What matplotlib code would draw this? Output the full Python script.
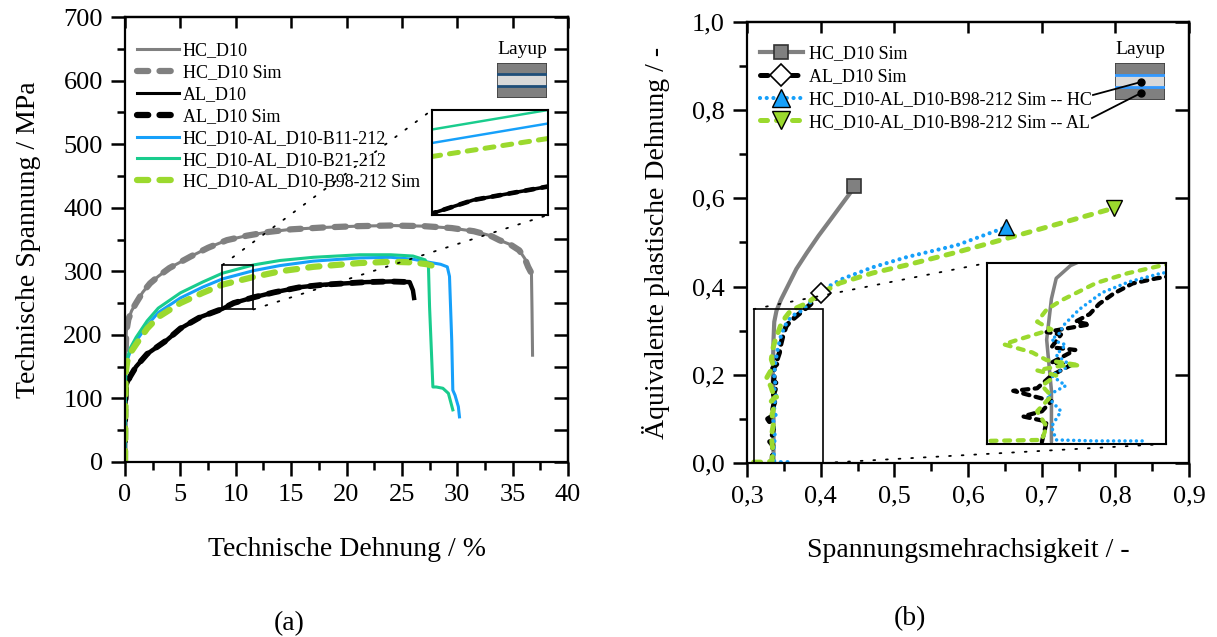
import matplotlib
matplotlib.use('Agg')
import matplotlib.pyplot as plt
from matplotlib.lines import Line2D
from matplotlib.patches import Rectangle, ConnectionPatch
from matplotlib.ticker import MultipleLocator, FuncFormatter, NullLocator

plt.rcParams['font.family'] = ['Liberation Serif', 'DejaVu Serif']
plt.rcParams['axes.linewidth'] = 1.6

# ---------------- data (a): stress-strain ----------------
hc_x = [0, 0.02, 0.05, 0.12, 0.3, 0.6, 1.0, 1.6, 2.26, 3.0, 4.0, 5.9, 7.5, 9.2, 11.0, 13.0, 15.0, 18.0,
        21.0, 24.0, 27.0, 29.5, 31.5, 33.0, 33.8, 34.8, 35.6, 36.1, 36.4, 36.7, 36.75, 36.8]
hc_y = [0, 100, 170, 205, 224, 238, 250, 267, 281, 292, 305, 323, 337, 349, 356, 362, 366, 369,
        371, 372, 371, 368, 363, 356, 349, 342, 333, 320, 307, 297, 240, 168]
hcsim_x = hc_x[:-2]
hcsim_y = hc_y[:-2]

al_x = [0, 0.02, 0.1, 0.45, 1.0, 2.0, 3.8, 5.0, 6.8, 8.8, 9.8, 11.6, 13.5, 15.8, 18.0, 21.8, 24.0, 25.7, 26.0, 26.1]
al_y = [0, 80, 120, 134, 150, 170, 192, 210, 228, 241, 250, 259, 267, 275, 279, 283, 284, 283, 270, 258]
alsim_x = al_x[:-2]
alsim_y = al_y[:-2]

b11_x = [0, 0.02, 0.06, 0.2, 0.5, 1.0, 2.0, 3.0, 5.0, 7.0, 8.8, 11.6, 14.0, 17.0, 21.2, 24.0, 26.0, 27.2,
         28.5, 29.1, 29.3, 29.5, 29.6, 29.8, 30.1, 30.2]
b11_y = [0, 80, 140, 160, 175, 190, 215, 235, 258, 275, 288, 301, 309, 316, 321, 322, 319, 315,
         311, 307, 292, 192, 113, 105, 87, 71]

b21_x = [0, 0.02, 0.06, 0.2, 0.5, 1.0, 2.0, 3.0, 5.0, 7.0, 8.8, 11.6, 14.0, 17.0, 21.2, 24.0, 26.0, 27.1,
         27.4, 27.5, 27.7, 27.8, 28.1, 28.7, 29.2, 29.6]
b21_y = [0, 80, 140, 163, 180, 196, 222, 242, 266, 283, 297, 310, 317, 322, 326, 326, 324, 318,
         307, 244, 160, 118, 118, 116, 108, 82]

b98_x = [0, 0.02, 0.06, 0.2, 0.5, 1.0, 2.0, 3.0, 5.0, 7.0, 8.8, 11.6, 14.0, 17.0, 21.2, 24.0, 26.0, 27.3, 28.1]
b98_y = [0, 60, 140, 158, 172, 185, 210, 228, 250, 266, 279, 291, 300, 307, 313, 315, 314, 311, 307]

labels_a = ['HC_D10', 'HC_D10 Sim', 'AL_D10', 'AL_D10 Sim',
            'HC_D10-AL_D10-B11-212', 'HC_D10-AL_D10-B21-212', 'HC_D10-AL_D10-B98-212 Sim']

# ---------------- data (b): triaxiality vs. plastic strain ----------------
g_x = [0.336, 0.336, 0.335, 0.336, 0.337, 0.340, 0.346, 0.355, 0.367, 0.381, 0.397, 0.413, 0.428, 0.440, 0.445]
g_y = [0.0, 0.10, 0.20, 0.28, 0.32, 0.345, 0.37, 0.40, 0.44, 0.476, 0.515, 0.551, 0.585, 0.612, 0.628]

k_x = [0.334, 0.335, 0.330, 0.334, 0.336, 0.328, 0.333, 0.336, 0.340, 0.336, 0.341, 0.336, 0.338, 0.335,
       0.344, 0.341, 0.344, 0.346, 0.349, 0.353, 0.358, 0.372, 0.385, 0.401]
k_y = [0.00, 0.04, 0.05, 0.06, 0.08, 0.10, 0.105, 0.13, 0.15, 0.155, 0.18, 0.185, 0.21, 0.215,
       0.23, 0.235, 0.25, 0.27, 0.29, 0.31, 0.32, 0.34, 0.358, 0.385]

hcl_x = [0.355, 0.345, 0.337, 0.336, 0.338, 0.335, 0.339, 0.336, 0.340, 0.337, 0.339, 0.336, 0.338, 0.3383,
         0.3418, 0.3466, 0.3522, 0.359, 0.365, 0.376, 0.390, 0.405, 0.430, 0.471, 0.517, 0.585, 0.652]
hcl_y = [0.002, 0.002, 0.004, 0.03, 0.06, 0.09, 0.11, 0.13, 0.15, 0.17, 0.19, 0.20, 0.215, 0.226,
         0.259, 0.292, 0.313, 0.330, 0.337, 0.347, 0.372, 0.395, 0.418, 0.444, 0.467, 0.494, 0.535]

all_x = [0.309, 0.322, 0.334, 0.335, 0.333, 0.336, 0.334, 0.337, 0.333, 0.338, 0.342, 0.335, 0.332, 0.326,
         0.329, 0.336, 0.333, 0.335, 0.3383, 0.3454, 0.352, 0.3595, 0.381, 0.400, 0.426, 0.471, 0.517,
         0.585, 0.650, 0.720, 0.798]
all_y = [0.002, 0.002, 0.004, 0.03, 0.06, 0.09, 0.11, 0.13, 0.14, 0.149, 0.15, 0.16, 0.175, 0.191,
         0.20, 0.22, 0.235, 0.259, 0.278, 0.311, 0.330, 0.346, 0.362, 0.385, 0.408, 0.431, 0.449,
         0.478, 0.508, 0.541, 0.578]

labels_b = ['HC_D10 Sim', 'AL_D10 Sim', 'HC_D10-AL_D10-B98-212 Sim -- HC', 'HC_D10-AL_D10-B98-212 Sim -- AL']

GRAY = '#808080'
BLUE = '#16a0fa'
GREEN = '#19cc8d'
LIME = '#9bd92e'
DASH = (0, (1.8, 1.8))

W, H = 1217, 637


def fx(px):
    return px / W


def fy(py):
    return 1 - py / H


def box(l, t, r, b):
    return [fx(l), fy(b), fx(r) - fx(l), fy(t) - fy(b)]


def draw_a(ax, s=1.0):
    ax.plot(hc_x, hc_y, color=GRAY, lw=2.2 * s)
    ax.plot(hcsim_x, hcsim_y, color=GRAY, lw=4.5 * s, ls=DASH, dash_capstyle='round')
    ax.plot(alsim_x, alsim_y, color='k', lw=4.2 * s, ls=DASH, dash_capstyle='round')
    ax.plot(al_x, al_y, color='k', lw=3.2 * s)
    ax.plot(b11_x, b11_y, color=BLUE, lw=2.2 * s)
    ax.plot(b21_x, b21_y, color=GREEN, lw=2.2 * s)
    ax.plot(b98_x, b98_y, color=LIME, lw=4.5 * s, ls=DASH, dash_capstyle='round')


def draw_b(ax, s=1.0, marks=True):
    ax.plot(g_x, g_y, color=GRAY, lw=3 * s, solid_capstyle='round')
    ax.plot(k_x, k_y, color='k', lw=3.6 * s, ls=(0, (1.5, 1.5)), dash_capstyle='round')
    ax.plot(hcl_x, hcl_y, color=BLUE, lw=3 * s, ls=(0, (0.01, 1.6)), dash_capstyle='round')
    ax.plot(all_x, all_y, color=LIME, lw=3.6 * s, ls=(0, (1.4, 1.8)), dash_capstyle='round')
    if marks:
        ax.plot(g_x[-1], g_y[-1], 's', ms=10, mfc=GRAY, mec='#333333', mew=1.2)
        ax.plot(k_x[-1], k_y[-1], 'D', ms=10, mfc='white', mec='k', mew=1.2)
        ax.plot(hcl_x[-1], hcl_y[-1], '^', ms=12, mfc=BLUE, mec='k', mew=1.0)
        ax.plot(all_x[-1], all_y[-1], 'v', ms=12, mfc=LIME, mec='k', mew=1.0)


def style_axes(ax, xmaj, xmin, ymaj, ymin, top_ticks, right_ticks):
    ax.xaxis.set_major_locator(MultipleLocator(xmaj))
    ax.xaxis.set_minor_locator(MultipleLocator(xmin))
    ax.yaxis.set_major_locator(MultipleLocator(ymaj))
    ax.yaxis.set_minor_locator(MultipleLocator(ymin))
    ax.tick_params(which='major', direction='out', length=10, width=1.8, labelsize=19, pad=6)
    ax.tick_params(which='minor', direction='out', length=6, width=1.8)
    sx = ax.secondary_xaxis('top')
    sx.set_xticks(top_ticks)
    sx.xaxis.set_minor_locator(NullLocator())
    sx.tick_params(direction='in', length=8, width=1.8, labeltop=False)
    sy = ax.secondary_yaxis('right')
    sy.set_yticks(right_ticks)
    sy.yaxis.set_minor_locator(NullLocator())
    sy.tick_params(direction='in', length=10, width=1.8, labelright=False)


def layup(rect, line_color):
    la = fig.add_axes(rect)
    la.set_xlim(0, 1)
    la.set_ylim(0, 1)
    la.axis('off')
    la.add_patch(Rectangle((0, 0), 1, 1, fc=GRAY, ec='none'))
    la.add_patch(Rectangle((0, 0.34), 1, 0.34, fc='#d9d9d9', ec='none'))
    la.axhline(0.68, color=line_color, lw=2)
    la.axhline(0.34, color=line_color, lw=2)
    la.add_patch(Rectangle((0, 0), 1, 1, fc='none', ec='#404040', lw=1.2))
    return la


fig = plt.figure(figsize=(12.17, 6.37), dpi=100)

# ================= (a) =================
ax1 = fig.add_axes(box(125, 17, 568, 462))
draw_a(ax1)
ax1.set_xlim(0, 40)
ax1.set_ylim(0, 700)
style_axes(ax1, 5, 2.5, 100, 50, list(range(0, 41, 5)), list(range(0, 701, 50)))
ax1.set_xlabel('Technische Dehnung / %', fontsize=20, labelpad=22)
ax1.set_ylabel('Technische Spannung / MPa', fontsize=20, labelpad=16)

h_a = [Line2D([], [], color=GRAY, lw=2.2),
       Line2D([], [], color=GRAY, lw=4.5, ls=DASH, dash_capstyle='round'),
       Line2D([], [], color='k', lw=2.2),
       Line2D([], [], color='k', lw=4.5, ls=DASH, dash_capstyle='round'),
       Line2D([], [], color=BLUE, lw=2.2),
       Line2D([], [], color=GREEN, lw=2.2),
       Line2D([], [], color=LIME, lw=4.5, ls=DASH, dash_capstyle='round')]
ax1.legend(h_a, labels_a, loc='upper left', bbox_to_anchor=(0.027, 0.943), frameon=False, fontsize=13,
           handlelength=2.35, handletextpad=0.2, labelspacing=0.27, borderpad=0, borderaxespad=0)

ins1 = fig.add_axes(box(432, 110, 548, 215))
draw_a(ins1, 0.8)
ins1.set_xlim(8.8, 11.6)
ins1.set_ylim(240, 310)
ins1.set_xticks([])
ins1.set_yticks([])
for sp in ins1.spines.values():
    sp.set_linewidth(1.5)
ax1.add_patch(Rectangle((8.8, 240), 2.8, 70, fc='none', ec='k', lw=1.2, zorder=5))
for a, b in [((8.8, 310), (0, 1)), ((11.6, 240), (1, 0))]:
    fig.add_artist(ConnectionPatch(a, b, coordsA=ax1.transData, coordsB=ins1.transAxes,
                                   color='k', lw=1.3, ls=(0, (1, 6))))

fig.text(fx(522), fy(50), 'Layup', fontsize=14, ha='center', va='center')
layup(box(497, 63, 547, 98), '#1f4e79')
fig.text(fx(289), fy(624), '(a)', fontsize=20, ha='center', va='center')

# ================= (b) =================
ax2 = fig.add_axes(box(747, 22, 1189, 463))
draw_b(ax2)
ax2.set_xlim(0.3, 0.9)
ax2.set_ylim(0, 1.0)
style_axes(ax2, 0.1, 0.05, 0.2, 0.1, [0.3, 0.4, 0.5, 0.6, 0.7, 0.8, 0.9], [0, 0.2, 0.4, 0.6, 0.8, 1.0])
comma = FuncFormatter(lambda v, p: f'{v:.1f}'.replace('.', ','))
ax2.xaxis.set_major_formatter(comma)
ax2.yaxis.set_major_formatter(comma)
ax2.set_xlabel('Spannungsmehrachsigkeit / -', fontsize=20, labelpad=22)
ax2.set_ylabel('Äquivalente plastische Dehnung / -', fontsize=20, labelpad=16)

h_b = [Line2D([], [], color=GRAY, lw=3, marker='s', ms=9.5, mfc=GRAY, mec='#333333', mew=1.2),
       Line2D([], [], color='k', lw=3.6, ls=(0, (1.5, 1.5)), dash_capstyle='round',
              marker='D', ms=11, mfc='white', mec='k', mew=1.2),
       Line2D([], [], color=BLUE, lw=3, ls=(0, (0.01, 1.6)), dash_capstyle='round',
              marker='^', ms=13, mfc=BLUE, mec='k', mew=1.0),
       Line2D([], [], color=LIME, lw=3.6, ls=(0, (1.4, 1.8)), dash_capstyle='round',
              marker='v', ms=13, mfc=LIME, mec='k', mew=1.0)]
ax2.legend(h_b, labels_b, loc='upper left', bbox_to_anchor=(0.029, 0.947), frameon=False, fontsize=13,
           handlelength=2.4, handletextpad=0.35, labelspacing=0.32, borderpad=0, borderaxespad=0,
           numpoints=1)

ins2 = fig.add_axes(box(987, 263, 1166, 444))
draw_b(ins2, 0.85, marks=False)
ins2.set_xlim(0.3225, 0.36)
ins2.set_ylim(-0.004, 0.35)
ins2.set_xticks([])
ins2.set_yticks([])
for sp in ins2.spines.values():
    sp.set_linewidth(1.5)
ax2.add_patch(Rectangle((0.309, 0), 0.094, 0.349, fc='none', ec='k', lw=1.2, zorder=5))
for a, b in [((0.309, 0.349), (0, 1)), ((0.403, 0.0), (1, 0))]:
    fig.add_artist(ConnectionPatch(a, b, coordsA=ax2.transData, coordsB=ins2.transAxes,
                                   color='k', lw=1.3, ls=(0, (1, 6))))

fig.text(fx(1140), fy(50), 'Layup', fontsize=14, ha='center', va='center')
layup(box(1115, 63, 1165, 100), '#3399ff')
for (x0, y0), (x1, y1) in [((1093, 95), (1141, 82)), ((1092, 118), (1141, 93))]:
    fig.add_artist(Line2D([fx(x0), fx(x1)], [fy(y0), fy(y1)], transform=fig.transFigure, color='k', lw=1.3))
    fig.add_artist(Line2D([fx(x1)], [fy(y1)], transform=fig.transFigure, marker='o', ms=5, color='k'))
fig.text(fx(910), fy(619), '(b)', fontsize=20, ha='center', va='center')

fig.savefig('out.png', dpi=100)
